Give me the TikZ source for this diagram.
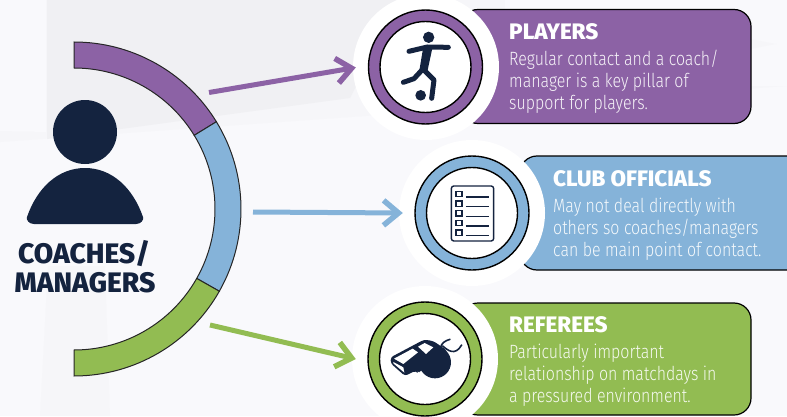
\documentclass[tikz,border=0pt]{standalone}
\usepackage{fontspec}
\usetikzlibrary{arrows.meta}
\setmainfont{Fira Sans}
\newfontfamily\titlefont{Fira Sans ExtraBold}
\newfontfamily\bodyfont{Fira Sans Light}[FakeStretch=0.83]
\definecolor{pplc}{HTML}{8C62A5}
\definecolor{bluc}{HTML}{85B3D9}
\definecolor{grnc}{HTML}{92BC52}
\definecolor{navy}{HTML}{14233F}
\definecolor{bgbase}{HTML}{F9F9FC}
\definecolor{bgmid}{HTML}{F6F6F9}
\definecolor{bgdark}{HTML}{F0F0F3}
\tikzset{
  seg/.style={draw=black!85,line width=1pt},
  card/.style={draw=black,line width=1.2pt,rounded corners=17pt,inner sep=0pt,minimum height=#1},
  halo/.style={circle,fill=white,draw=none,minimum size=146pt,inner sep=0pt},
  ring/.style={circle,draw=black,line width=1.4pt,minimum size=114pt,inner sep=0pt},
  hole/.style={circle,draw=black,fill=white,line width=1.4pt,minimum size=91pt,inner sep=0pt},
  conn/.style={line width=5pt,-{Straight Barb[length=15pt,width=25pt,line width=5.5pt]}},
  ttl/.style={anchor=base west,inner sep=0pt,text=white,font=\titlefont\fontsize{22.4}{24}\selectfont},
  bod/.style={anchor=base west,inner sep=0pt,font=\bodyfont\fontsize{19.2}{22}\selectfont},
  big/.style={anchor=base,inner sep=0pt,text=navy,font=\titlefont\fontsize{28.2}{30}\selectfont},
  limb/.style={draw=navy,line width=5pt,line cap=round,line join=round},
  tick/.style={draw=navy,line width=1.4pt}
}
\begin{document}
\begin{tikzpicture}[x=1pt,y=1pt]
\useasboundingbox (0,0) rectangle (787,416);
\clip (0,0) rectangle (787,416);
% background
\fill[bgbase] (0,0) rectangle (787,416);
\fill[bgmid] (0,274) -- (787,330) -- (787,416) -- (0,416) -- cycle;
\fill[bgdark] (47,277) -- (350,318) -- (400,416) -- (47,416) -- cycle;
\fill[bgmid] (40,0) -- (110,0) -- (105,150) -- (48,150) -- cycle;
\fill[bgbase] (0,285) -- (46,284) -- (46,416) -- (0,416) -- cycle;
\fill[bgbase] (505,416) -- (787,416) -- (787,330) -- (505,330) -- cycle;
\fill[bgmid] (745,378) -- (776,372) -- (745,366) -- cycle;
% coaches arc
\coordinate (c) at (74,207);
\fill[pplc,seg] ([shift={(c)}]90:167) arc[start angle=90,end angle=31.5,radius=167]
  -- ([shift={(c)}]31.5:141) arc[start angle=31.5,end angle=90,radius=141] -- cycle;
\fill[bluc,seg] ([shift={(c)}]31.5:167) arc[start angle=31.5,end angle=-29.5,radius=167]
  -- ([shift={(c)}]-29.5:141) arc[start angle=-29.5,end angle=31.5,radius=141] -- cycle;
\fill[grnc,seg] ([shift={(c)}]-29.5:167) arc[start angle=-29.5,end angle=-90,radius=167]
  -- ([shift={(c)}]-90:141) arc[start angle=-90,end angle=-29.5,radius=141] -- cycle;
% person
\node[circle,fill=navy,minimum size=64pt,inner sep=0pt] (head) at (85,284) {};
\fill[navy] (34,192) -- (136,192) .. controls (141,192) and (144,196) .. (143,199)
  .. controls (133,228) and (112,248) .. (85,248) .. controls (58,248) and (37,228) .. (27,199)
  .. controls (26,196) and (29,192) .. (34,192) -- cycle;
\node[big] (coach) at (84,153) {COACHES/};
\node[big] (manag) at (85,124) {MANAGERS};
% cards
\node[card=114pt,fill=pplc,minimum width=290pt] (cardP) at (606,349.5) {};
\node[card=114pt,fill=bluc,minimum width=320pt] (cardB) at (680,203) {};
\node[card=112pt,fill=grnc,minimum width=290pt] (cardG) at (606,57) {};
% halos
\node[halo] (haloP) at (426,349) {};
\node[halo] (haloB) at (472,203) {};
\node[halo] (haloG) at (425,57) {};
% rings
\node[ring,fill=pplc] (ringP) at (425.5,349) {};
\node[hole] (holeP) at (425.5,349) {};
\node[ring,fill=bluc] (ringB) at (472,203) {};
\node[hole] (holeB) at (472,203) {};
\node[ring,fill=grnc] (ringG) at (425,57) {};
\node[hole] (holeG) at (425,57) {};
% connectors
\coordinate (startP) at (209,323.5);
\coordinate (startB) at (253,204);
\coordinate (startG) at (210,91);
\draw[conn,pplc] (startP) -- ([xshift=3pt,yshift=-0.5pt]haloP.west);
\draw[conn,bluc] (startB) -- ([xshift=4pt]haloB.west);
\draw[conn,grnc] (startG) -- ([xshift=4pt]haloG.west);
% player icon
\begin{scope}[shift={(340,416)},x=0.3333pt,y=-0.3333pt]
  \fill[navy] (266,112) circle[radius=17];
  \draw[limb] (207,154) -- (262,141) -- (325,142);
  \fill[navy] (250,140) -- (278,140) -- (262,215) -- (238,212) -- cycle;
  \draw[limb] (248,208) -- (222,236) -- (190,247);
  \draw[limb] (250,208) -- (282,240) -- (275,295);
  \fill[navy] (242,286) circle[radius=16];
\end{scope}
% checklist icon
\begin{scope}[shift={(400,266)},x=0.3333pt,y=-0.3333pt]
  \draw[navy,line width=1.4pt,rounded corners=2.5pt] (154,108) rectangle (281,273);
  \foreach \yy in {132,161,190,219,248}{
    \draw[tick] (168,\yy-8) rectangle (186,\yy+8);
    \draw[tick] (198,\yy+9) -- (268,\yy+9);
  }
\end{scope}
% whistle icon
\begin{scope}[shift={(350,126)},x=0.3333pt,y=-0.3333pt]
  \fill[navy,rounded corners=3pt] (122,202) -- (222,149) -- (250,153) -- (292,182) -- (262,240)
    -- (212,240) -- (205,250) -- (197,242) -- (165,258) -- (122,220) -- cycle;
  \fill[navy] (255,217) circle[radius=48];
  \fill[white] (132,206) -- (188,176) -- (204,187) -- (160,222) -- cycle;
  \fill[white] (204,170) -- (224,159) -- (250,172) -- (228,192) -- cycle;
  \fill[white] (130,216) -- (160,232) -- (163,248) -- (130,220) -- cycle;
  \draw[navy,line width=1.6pt,line cap=round] (272,172) .. controls (274,160) and (285,152) .. (300,148);
  \draw[navy,line width=1.6pt,line cap=round] (278,168) .. controls (292,180) and (315,200) .. (335,165);
\end{scope}
% texts
\node[ttl] (tP) at (509,376.5) {PLAYERS};
\node[bod,text=pplc!8!white] (tP1) at (509,350) {Regular contact and a coach/};
\node[bod,text=pplc!8!white] (tP2) at (509,328) {manager is a key pillar of};
\node[bod,text=pplc!8!white] (tP3) at (509,306) {support for players.};
\node[ttl] (tB) at (553,229.5) {CLUB OFFICIALS};
\node[bod,text=bluc!8!white] (tB1) at (553,204) {May not deal directly with};
\node[bod,text=bluc!8!white] (tB2) at (553,182) {others so coaches/managers};
\node[bod,text=bluc!8!white] (tB3) at (553,160) {can be main point of contact.};
\node[ttl] (tG) at (509,84) {REFEREES};
\node[bod,text=grnc!8!white] (tG1) at (509,58) {Particularly important};
\node[bod,text=grnc!8!white] (tG2) at (509,36) {relationship on matchdays in};
\node[bod,text=grnc!8!white] (tG3) at (509,14) {a pressured environment.};
\end{tikzpicture}
\end{document}
